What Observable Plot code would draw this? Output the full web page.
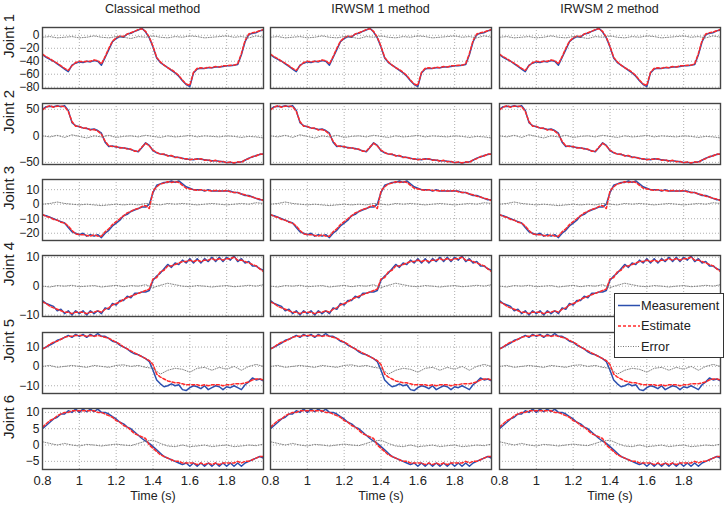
<!DOCTYPE html>
<html><head><meta charset="utf-8">
<script src="https://cdn.jsdelivr.net/npm/d3@7"></script>
<script src="https://cdn.jsdelivr.net/npm/@observablehq/plot@0.6"></script>
<style>
body{margin:0;background:#fff;font-family:"Liberation Sans",Arial,sans-serif;}
#root{position:relative;width:727px;height:508px;overflow:hidden;background:#fff;}
.cell{position:absolute;}
.cell svg{overflow:visible;display:block;}
.title{position:absolute;top:2px;font-size:12.5px;color:#222;transform:translateX(-50%);white-space:nowrap;}
#legend{position:absolute;left:614px;top:293px;width:108px;height:63px;background:#fff;border:1px solid #333;}
</style></head>
<body><div id="root"></div>
<script>
const methods = ["Classical method", "IRWSM 1 method", "IRWSM 2 method"];
const jointNames = ["Joint 1","Joint 2","Joint 3","Joint 4","Joint 5","Joint 6"];
const xTicks = [0.8, 1, 1.2, 1.4, 1.6, 1.8];
const yTicks = [[0,-20,-40,-60,-80],[50,0,-50],[10,0,-10,-20],[10,0,-10],[10,0,-10],[10,5,0,-5]];
const yDomains = [[-82,12],[-54,61],[-25,17],[-10.5,10.6],[-14,17.5],[-7.5,11.2]];

const time = [0.80,0.82,0.84,0.86,0.88,0.90,0.92,0.94,0.96,0.98,
  1.00,1.02,1.04,1.06,1.08,1.10,1.12,1.14,1.16,1.18,
  1.20,1.22,1.24,1.26,1.28,1.30,1.32,1.34,1.36,1.38,
  1.40,1.42,1.44,1.46,1.48,1.50,1.52,1.54,1.56,1.58,
  1.60,1.62,1.64,1.66,1.68,1.70,1.72,1.74,1.76,1.78,
  1.80,1.82,1.84,1.86,1.88,1.90,1.92,1.94,1.96,1.98,2.00];
const timeErr = [0.80,0.84,0.88,0.92,0.96,1.00,1.04,1.08,1.12,1.16,
  1.20,1.24,1.28,1.32,1.36,1.40,1.44,1.48,1.52,1.56,
  1.60,1.64,1.68,1.72,1.76,1.80,1.84,1.88,1.92,1.96,2.00];

const meas1 = [-30,-34,-37,-40,-44,-48,-52,-56,-46,-43,
 -41,-42,-40,-41,-39,-40,-46,-34,-22,-10,
 -5,-2,-3,2,3,6,8,11,5,-4,
 -18,-35,-42,-46,-50,-54,-58,-63,-70,-76,
 -79,-58,-52,-51,-51,-50,-50,-49,-49,-48,
 -47,-47,-46,-45,-30,-10,1,3,4,7,8];
const est1 = [-29,-33,-36,-40,-43,-47,-51,-54,-47,-42,
 -40,-41,-40,-40,-38,-39,-44,-33,-20,-9,
 -4,-1,-2,2,4,6,9,10,6,-3,
 -17,-34,-41,-46,-50,-53,-57,-62,-69,-75,
 -77,-57,-51,-50,-51,-49,-50,-48,-49,-47,
 -47,-46,-46,-44,-28,-8,2,4,5,7,9];
const err1 = [-3,-2,-4,-3,-2,-4,-3,-1,-3,-4,
 -2,-3,-5,-2,-3,-1,-3,-4,-2,-3,
 -1,-2,-4,-3,-2,-1,-3,-2,-4,-1,-3];

const meas2 = [50,55,56,55,57,55,57,48,25,19,
 17,15,14,12,13,10,5,-12,-20,-19,
 -21,-22,-23,-24,-26,-28,-30,-22,-13,-18,
 -28,-32,-34,-35,-37,-38,-40,-41,-42,-44,
 -44,-45,-43,-44,-45,-46,-47,-47,-48,-49,
 -50,-50,-51,-50,-49,-46,-42,-40,-37,-35,-34];
const est2 = [49,54,57,54,56,56,55,46,27,18,
 18,14,15,11,12,9,3,-10,-19,-20,
 -20,-23,-22,-25,-25,-29,-29,-21,-14,-19,
 -27,-31,-35,-34,-38,-37,-41,-40,-43,-43,
 -45,-44,-44,-43,-46,-45,-48,-46,-49,-48,
 -51,-49,-51,-49,-50,-45,-43,-39,-38,-34,-35];
const err2 = [0,-2,1,-3,2,-1,-4,0,-2,1,
 -3,-1,0,-2,1,-1,-3,0,-2,-1,
 1,-2,0,-1,-2,0,-1,-3,-1,-2,-4];

const meas3 = [-7.5,-8,-9,-10,-11,-12,-13,-16,-19,-20,
 -21,-20,-22,-21,-22,-21,-23,-20,-18,-15,
 -13,-11,-8,-7,-5,-4,-3,-2,-2,0,
 8,13,14,15,15,16,15,16,14,12,
 11,10,10,10,9,10,9,9,9,9,
 9,9,8,8,7,6,6,5,4,3,3];
const est3 = [-7,-8.5,-9,-10.5,-11,-12.5,-13,-15,-18,-20.5,
 -21,-21,-21.5,-22,-21,-22,-22,-19,-17,-14,
 -12,-10,-8,-6,-5,-3.5,-3,-1.5,-1,-3,
 9,12,14,14.5,15.5,15,15.5,15,13,11,
 10.5,10,9.5,10,9.5,9.5,9,9.5,9,9,
 9.5,8.5,8,8,7,6.5,5.5,5,4,3.5,2.5];
const err3 = [0,0.5,1.5,0.5,0,-0.5,0,-0.5,-1,-0.5,
 0,-0.5,0,-0.5,0.5,0,-0.5,0.5,0,0.5,
 0,-0.5,0,0.5,0,-0.5,0,0.5,0,1,0.5];

const meas4 = [-5,-6,-6.5,-7,-8.5,-8,-9.5,-8.5,-10,-8.5,
 -9.5,-8.5,-10,-8.5,-9.5,-8.5,-9.5,-7.5,-8,-6,
 -6.5,-5,-5,-3.5,-4,-2.5,-2.5,-2,-2,-1.5,
 2,3.5,4.5,6,7.5,6.5,8,7.5,9,8,
 9.5,8,9.5,8,9.5,8.5,10,8.5,10,8.5,
 10,9,10.5,8.5,9.5,8,8.5,7,7,6,5.5];
const est4 = [-5.5,-6,-7,-7.5,-8,-8.5,-9,-9,-9.5,-9,
 -9,-9,-9.5,-9,-9,-8.5,-9,-8,-7.5,-6.5,
 -6,-5.5,-4.5,-4,-3.5,-3,-2.5,-2,-1.5,-1,
 2.5,3,5,5.5,7,7,7.5,8,8.5,8.5,
 9,8.5,9,8.5,9,9,9.5,9,9.5,9,
 9.5,9.5,10,9,9,8.5,8,7.5,7,6,5];
const err4 = [0,-0.3,0.2,0,0.3,-0.2,0,0.2,-0.3,0,
 0.3,-0.2,0.2,0,0.5,-0.5,0.3,1,0.5,0,
 -0.2,0.2,0,-0.3,0,0.2,-0.2,0,0.3,0,0.5];

const meas5 = [9,10,11,12,13.5,14,15,16,15,16.5,
 15.5,16.5,15,16.5,15.5,17,15.5,15.5,14.5,13,
 12.5,11,10,9,7.5,6.5,6,5,4,2.5,
 -2,-7,-9,-10.5,-10,-9,-10,-9.5,-12,-12.5,
 -11,-10,-10.5,-11.5,-10,-12,-11,-10,-10.5,-12,
 -10.5,-11,-10,-11,-12,-9.5,-8,-6,-7,-6.5,-7.5];
const est5 = [9,10,11.5,12.5,13,14,15,15.5,15.5,16,
 16,16,15.5,16,15.5,16,15.5,15,14.5,13.5,
 12.5,11.5,10,9,8,7,6,5,4,3,
 1,-4,-5.5,-6.5,-7.5,-8,-8.5,-8.5,-9,-9.5,
 -9.5,-9.5,-9.5,-10,-9.5,-10,-9.5,-9.5,-9.5,-10,
 -9.5,-9.5,-9,-9,-9,-8.5,-8,-7,-6.5,-6.5,-7];
const err5 = [0,0.5,-0.5,0,0.5,0,-0.5,0.5,0,-0.5,
 0.5,0.8,0,0.5,-0.5,-1,-4,-2,-1,-1.5,
 -3,-1,-0.5,-2,-0.5,-1.5,0,-2,0,1,0];

const meas6 = [5,6,7,8,8.5,9.5,9.5,10.5,10,11,
 10,11,10.2,11,10.2,11,10,10,9.5,8.7,
 8,7,6.5,5.5,5,4,3,2,1.2,0.5,
 -0.5,-1.5,-2.5,-3.5,-4,-4.5,-5,-5.5,-6,-5.5,
 -6.5,-5.5,-6.5,-5.5,-6.5,-5.5,-6.5,-5.5,-6.5,-5.5,
 -6.5,-5.5,-6.5,-5.5,-6.5,-5.5,-5,-4.5,-4,-3.5,-4];
const est6 = [5.5,6.5,7.5,8,9,9.5,10,10,10.5,10.5,
 10.5,10.5,10.5,10.5,10.5,10,10,9.5,9,8.5,
 7.5,7,6,5.5,4.5,3.5,3,2.5,2,0,
 -1,-2,-3,-3.5,-4,-4.5,-5,-5,-5.5,-5.5,
 -5.5,-5.5,-6,-5.5,-6,-5.5,-6,-5.5,-6,-5.5,
 -5.5,-5.5,-5.5,-5,-5.5,-5,-5,-4.5,-4,-3.5,-3.5];
const err6 = [1,0.5,0,0.5,0,-0.3,0.2,0,-0.3,0,
 0.3,0,-0.2,0.5,1.2,1.5,0.5,-0.3,-0.5,0,
 -0.5,-0.3,0,-0.5,-0.2,0,-0.5,-0.3,0,-0.2,0.3];

const measAll = [meas1, meas2, meas3, meas4, meas5, meas6];
const estAll = [est1, est2, est3, est4, est5, est6];
const errAll = [err1, err2, err3, err4, err5, err6];

const BLUE = "#2b4fae", RED = "#ff2a2a", GREY = "#777";
const FONT = '"Liberation Sans", Arial, sans-serif';
const panelLeft = [42, 270, 499];
const panelTop = [27, 103, 179, 255, 332, 408];
const PW = 221, PH = 61;
const fmt = d => (d < 0 ? "\u2212" : "") + Math.abs(d);
const root = document.getElementById("root");

methods.forEach((m, c) => {
  const t = document.createElement("div");
  t.className = "title";
  t.style.left = (panelLeft[c] + PW / 2) + "px";
  t.textContent = m;
  root.appendChild(t);
});

for (let r = 0; r < 6; r++) {
  const line = time.map((tt, i) => ({t: tt, m: measAll[r][i], e: estAll[r][i]}));
  const errData = timeErr.map((tt, i) => ({t: tt, v: errAll[r][i]}));
  for (let c = 0; c < 3; c++) {
    const ml = c === 0 ? 42 : 1, mb = r === 5 ? 40 : 1, mt = 1, mr = 1;
    const gridStyle = {stroke: "#9a9a9a", strokeOpacity: 1, strokeDasharray: "1,2", strokeWidth: 0.8};
    const chart = Plot.plot({
      width: PW + ml + mr, height: PH + mt + mb,
      marginLeft: ml, marginRight: mr, marginTop: mt, marginBottom: mb,
      style: {fontFamily: FONT, fontSize: "12px", background: "transparent", overflow: "visible", color: "#222"},
      x: {domain: [0.8, 2.0], axis: null},
      y: {domain: yDomains[r], axis: null},
      marks: [
        Plot.gridX(xTicks, gridStyle),
        Plot.gridY(yTicks[r], gridStyle),
        Plot.line(line, {x: "t", y: "m", stroke: BLUE, strokeWidth: 1.5, clip: true}),
        Plot.line(line, {x: "t", y: "e", stroke: RED, strokeWidth: 1.5, strokeDasharray: "3,2", clip: true}),
        Plot.line(errData, {x: "t", y: "v", stroke: GREY, strokeWidth: 0.9, strokeDasharray: "1,1.5", clip: true}),
        Plot.frame({stroke: "#444", strokeWidth: 1.4}),
        c === 0 ? Plot.axisY(yTicks[r], {tickSize: 0, tickPadding: 3, tickFormat: fmt, label: null, fontSize: 12}) : null,
        r === 5 ? Plot.axisX(xTicks, {tickSize: 0, tickPadding: 6, tickFormat: fmt, label: null, fontSize: 13}) : null,
        c === 0 ? Plot.text([jointNames[r]], {text: d => d, frameAnchor: "left", rotate: -90, dx: -33, fontSize: 15, fill: "#222"}) : null,
        r === 5 ? Plot.text(["Time (s)"], {text: d => d, frameAnchor: "bottom", dy: 30, fontSize: 12.5, fill: "#222"}) : null
      ]
    });
    const div = document.createElement("div");
    div.className = "cell";
    div.style.left = (panelLeft[c] - ml) + "px";
    div.style.top = (panelTop[r] - mt) + "px";
    div.appendChild(chart);
    root.appendChild(div);
  }
}

const legendItems = [
  {name: "Measurement", stroke: BLUE, dash: null, w: 1.5},
  {name: "Estimate", stroke: RED, dash: "3,2", w: 1.5},
  {name: "Error", stroke: GREY, dash: "1,1.5", w: 1}
];
const lg = document.createElement("div");
lg.id = "legend";
const ns = "http://www.w3.org/2000/svg";
const svg = document.createElementNS(ns, "svg");
svg.setAttribute("width", 108); svg.setAttribute("height", 63);
legendItems.forEach((it, i) => {
  const y = 11.5 + i * 20.5;
  const l = document.createElementNS(ns, "line");
  l.setAttribute("x1", 3); l.setAttribute("x2", 25); l.setAttribute("y1", y); l.setAttribute("y2", y);
  l.setAttribute("stroke", it.stroke); l.setAttribute("stroke-width", it.w);
  if (it.dash) l.setAttribute("stroke-dasharray", it.dash);
  svg.appendChild(l);
  const tx = document.createElementNS(ns, "text");
  tx.setAttribute("x", 26); tx.setAttribute("y", y); tx.setAttribute("dy", "0.35em");
  tx.setAttribute("font-size", "12.8"); tx.setAttribute("fill", "#222");
  tx.setAttribute("font-family", FONT);
  tx.textContent = it.name;
  svg.appendChild(tx);
});
lg.appendChild(svg);
root.appendChild(lg);
</script>
</body></html>
